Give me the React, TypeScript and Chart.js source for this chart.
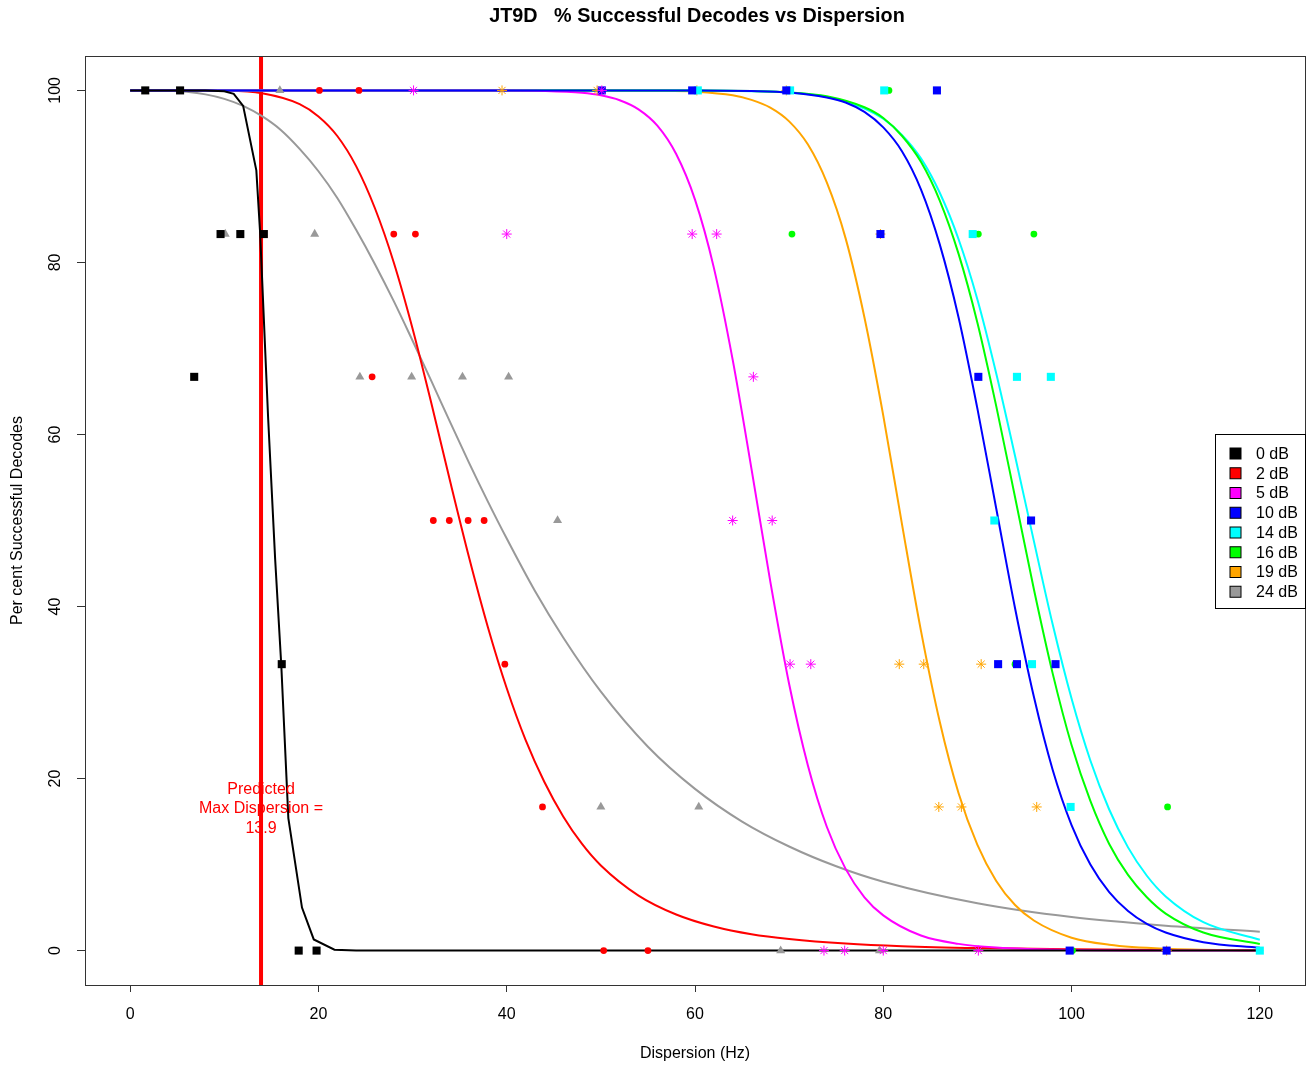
import React, { useEffect, useRef } from 'react';
import { Chart, registerables } from 'chart.js';

Chart.register(...registerables);

// ---------- text ----------
const TITLE = 'JT9D   % Successful Decodes vs Dispersion';
const X_LABEL = 'Dispersion (Hz)';
const Y_LABEL = 'Per cent Successful Decodes';
const PREDICTED_LABEL = ['Predicted', 'Max Dispersion =', '13.9'];

// ---------- axes ----------
const X_TICKS = [0, 20, 40, 60, 80, 100, 120];
const Y_TICKS = [0, 20, 40, 60, 80, 100];
const X_MIN = -4.8;
const X_MAX = 124.8;
const Y_MIN = -4;
const Y_MAX = 104;

// ---------- predicted max dispersion ----------
const PREDICTED = 13.9;
const PREDICTED_LABEL_Y = 16.6;

// ---------- series ----------
const SERIES_LABELS = ['0 dB', '2 dB', '5 dB', '10 dB', '14 dB', '16 dB', '19 dB', '24 dB'];
const SERIES_COLORS = ['#000000', '#FF0000', '#FF00FF', '#0000FF', '#00FFFF', '#00FF00', '#FFA500', '#999999'];

// observed points
const PTS_0DB_X = [1.6, 5.3, 6.8, 9.6, 11.7, 14.2, 16.1, 17.9, 19.8];
const PTS_0DB_Y = [100, 100, 66.7, 83.3, 83.3, 83.3, 33.3, 0, 0];

const PTS_2DB_X = [20.1, 24.3, 25.7, 28.0, 30.3, 32.2, 33.9, 35.9, 37.6, 39.8, 43.8, 50.3, 55.0];
const PTS_2DB_Y = [100, 100, 66.7, 83.3, 83.3, 50, 50, 50, 50, 33.3, 16.7, 0, 0];

const PTS_5DB_X = [30.1, 40.0, 50.1, 59.7, 62.3, 66.2, 64.0, 68.2, 70.1, 72.3, 73.7, 75.9, 80.0, 90.1];
const PTS_5DB_Y = [100, 83.3, 100, 83.3, 83.3, 66.7, 50, 50, 33.3, 33.3, 0, 0, 0, 0];

const PTS_10DB_X = [50.1, 59.7, 69.7, 85.7, 79.7, 90.1, 95.7, 92.2, 94.2, 98.3, 99.8, 110.1];
const PTS_10DB_Y = [100, 100, 100, 100, 83.3, 66.7, 50, 33.3, 33.3, 33.3, 0, 0];

const PTS_14DB_X = [60.3, 70.1, 80.1, 89.5, 94.2, 97.8, 91.8, 95.8, 99.9, 120];
const PTS_14DB_Y = [100, 100, 100, 83.3, 66.7, 66.7, 50, 33.3, 16.7, 0];

const PTS_16DB_X = [80.6, 70.3, 90.1, 96.0, 94.0, 110.2, 100.1, 120];
const PTS_16DB_Y = [100, 83.3, 83.3, 83.3, 33.3, 16.7, 0, 0];

const PTS_19DB_X = [39.5, 49.6, 60.2, 69.7, 79.7, 81.7, 84.3, 90.4, 85.9, 88.3, 96.3, 110.1];
const PTS_19DB_Y = [100, 100, 100, 100, 83.3, 33.3, 33.3, 33.3, 16.7, 16.7, 16.7, 0];

const PTS_24DB_X = [10.1, 15.9, 19.6, 24.4, 29.9, 35.3, 40.2, 45.4, 50.0, 60.4, 69.1, 79.6];
const PTS_24DB_Y = [83.3, 100, 83.3, 66.7, 66.7, 66.7, 66.7, 50, 16.7, 16.7, 0, 0];

// fitted curves
const FIT_0DB_X = [0, 8, 10, 11, 12, 13.4, 13.8, 14.65, 15.4, 16.05, 16.8, 18.25, 19.5, 21.7, 24, 120];
const FIT_0DB_Y = [100, 100, 99.9, 99.6, 98.2, 90.7, 83.5, 62, 45.5, 33.2, 15.4, 5, 1.3, 0.1, 0, 0];

const FIT_2DB_X = [0, 5, 10, 14, 18, 20, 22, 24, 26, 28, 30, 32, 34, 36, 38, 40, 42, 44, 46, 48, 50, 54, 58, 62, 66, 70, 76, 82, 90, 100, 110, 120];
const FIT_2DB_Y = [100, 100, 99.96, 99.66, 98.4, 96.97, 94.7, 91.2, 86.3, 80.0, 72.3, 63.6, 54.5, 45.7, 37.6, 30.5, 24.5, 19.6, 15.6, 12.4, 9.9, 6.4, 4.2, 2.8, 1.9, 1.35, 0.82, 0.51, 0.29, 0.15, 0.08, 0.05];

const FIT_5DB_X = [0, 40, 44, 48, 50, 52, 54, 56, 58, 60, 62, 64, 66, 68, 70, 72, 74, 76, 78, 80, 84, 88, 92, 100, 110, 120];
const FIT_5DB_Y = [100, 99.99, 99.94, 99.72, 99.43, 98.86, 97.8, 95.9, 92.6, 87.3, 79.4, 68.7, 56.0, 42.9, 31.0, 21.5, 14.4, 9.5, 6.2, 4.1, 1.75, 0.78, 0.36, 0.08, 0.02, 0.01];

const FIT_10DB_X = [0, 60, 66, 70, 74, 76, 78, 80, 82, 84, 86, 88, 90, 92, 94, 96, 98, 100, 102, 104, 106, 108, 110, 114, 120];
const FIT_10DB_Y = [100, 99.99, 99.93, 99.76, 99.18, 98.6, 97.5, 95.7, 92.9, 88.5, 82.1, 73.6, 63.0, 51.4, 39.8, 29.5, 21.0, 14.6, 10.0, 6.8, 4.6, 3.1, 2.1, 0.98, 0.32];

const FIT_14DB_X = [0, 60, 66, 70, 74, 78, 80, 82, 84, 86, 88, 90, 92, 94, 96, 98, 100, 102, 104, 106, 108, 110, 114, 120];
const FIT_14DB_Y = [100, 99.99, 99.91, 99.74, 99.24, 97.9, 96.7, 94.8, 92.1, 88.1, 82.7, 75.7, 67.1, 57.5, 47.6, 37.9, 29.3, 22.1, 16.4, 12.0, 8.7, 6.3, 3.3, 1.26];

const FIT_16DB_X = [0, 60, 66, 70, 74, 78, 80, 82, 84, 86, 88, 90, 92, 94, 96, 98, 100, 102, 104, 106, 108, 110, 114, 120];
const FIT_16DB_Y = [100, 99.99, 99.93, 99.78, 99.32, 98.04, 96.8, 94.7, 91.7, 87.2, 81.0, 73.0, 63.3, 52.7, 42.0, 32.2, 23.9, 17.4, 12.4, 8.8, 6.2, 4.3, 2.1, 0.76];

const FIT_19DB_X = [0, 50, 56, 60, 64, 66, 68, 70, 72, 74, 76, 78, 80, 82, 84, 86, 88, 90, 92, 94, 96, 100, 104, 110, 120];
const FIT_19DB_Y = [100, 100, 99.96, 99.85, 99.43, 98.9, 98.0, 96.4, 93.7, 89.3, 82.8, 73.6, 62.2, 49.5, 37.2, 26.6, 18.3, 12.3, 8.1, 5.3, 3.5, 1.5, 0.68, 0.21, 0.03];

const FIT_24DB_X = [0, 2, 4, 6, 8, 10, 12, 14, 16, 18, 20, 22, 24, 26, 28, 30, 32, 34, 36, 38, 40, 43, 46, 50, 55, 60, 65, 70, 75, 80, 90, 100, 110, 120];
const FIT_24DB_Y = [100, 100, 99.96, 99.83, 99.54, 99.02, 98.2, 97.0, 95.4, 93.2, 90.6, 87.5, 83.8, 79.8, 75.5, 70.9, 66.2, 61.4, 56.7, 52.2, 47.9, 41.8, 36.4, 30.1, 23.7, 18.8, 15.0, 12.1, 9.8, 8.0, 5.5, 3.9, 2.9, 2.2];

const FONT = "'Liberation Sans', Arial, sans-serif";

const pairs = (xs: number[], ys: number[]) => xs.map((x, i) => ({ x, y: ys[i] }));

function pointDs(idx: number, xs: number[], ys: number[], style: string, radius: number, stroke: boolean) {
  const c = SERIES_COLORS[idx];
  return {
    label: SERIES_LABELS[idx],
    data: pairs(xs, ys),
    showLine: false,
    pointStyle: style,
    pointRadius: radius,
    pointHoverRadius: radius,
    backgroundColor: c,
    borderColor: c,
    pointBorderWidth: stroke ? 1 : 0,
    borderWidth: stroke ? 1 : 0,
  };
}

function curveDs(idx: number, xs: number[], ys: number[], smooth: boolean) {
  const c = SERIES_COLORS[idx];
  return {
    label: SERIES_LABELS[idx] + ' fit',
    data: pairs(xs, ys),
    showLine: true,
    pointRadius: 0,
    pointHoverRadius: 0,
    borderColor: c,
    backgroundColor: c,
    borderWidth: 2,
    tension: 0,
    cubicInterpolationMode: smooth ? 'monotone' : 'default',
    fill: false,
  };
}

const decorPlugin = {
  id: 'rDecor',
  afterDraw(chart: any) {
    const { ctx, chartArea } = chart;
    const xs = chart.scales.x;
    const ys = chart.scales.y;
    ctx.save();

    // plot box
    ctx.strokeStyle = '#333';
    ctx.lineWidth = 1;
    ctx.strokeRect(Math.round(chartArea.left) + 0.5, Math.round(chartArea.top) + 0.5,
      Math.round(chartArea.right - chartArea.left), Math.round(chartArea.bottom - chartArea.top));

    // title
    ctx.fillStyle = '#000';
    ctx.font = `bold 19.8px ${FONT}`;
    ctx.textAlign = 'center';
    ctx.textBaseline = 'middle';
    ctx.fillText(TITLE, (chartArea.left + chartArea.right) / 2 + 2, 17);

    // y tick labels (rotated like R)
    ctx.font = `16px ${FONT}`;
    Y_TICKS.forEach((v) => {
      const py = ys.getPixelForValue(v);
      ctx.save();
      ctx.translate(56, py);
      ctx.rotate(-Math.PI / 2);
      ctx.fillText(String(v), 0, 0);
      ctx.restore();
    });

    // predicted label
    ctx.fillStyle = '#FF0000';
    const px = xs.getPixelForValue(PREDICTED);
    const pyc = ys.getPixelForValue(PREDICTED_LABEL_Y);
    PREDICTED_LABEL.forEach((t, i) => {
      ctx.fillText(t, px, pyc + 1 + (i - 1) * 19.5);
    });

    // legend
    const rowH = 19.75;
    const boxW = 90;
    const boxH = 174;
    const right = chartArea.right;
    const left = right - boxW;
    const top = (chartArea.top + chartArea.bottom) / 2 - boxH / 2;
    ctx.strokeStyle = '#000';
    ctx.lineWidth = 1;
    ctx.strokeRect(Math.round(left) + 0.5, Math.round(top) + 0.5, boxW, boxH);
    ctx.textAlign = 'left';
    ctx.textBaseline = 'middle';
    SERIES_LABELS.forEach((lab, i) => {
      const cy = top + 20 + i * rowH;
      ctx.fillStyle = SERIES_COLORS[i];
      ctx.fillRect(left + 15, cy - 5.5, 11, 11);
      ctx.strokeStyle = '#000';
      ctx.strokeRect(left + 15, cy - 5.5, 11, 11);
      ctx.fillStyle = '#000';
      ctx.fillText(lab, left + 41, cy + 1);
    });

    ctx.restore();
  },
};

export default function App() {
  const ref = useRef<HTMLCanvasElement>(null);

  useEffect(() => {
    const canvas = ref.current;
    if (!canvas) return;
    Chart.defaults.font.family = FONT;
    Chart.defaults.color = '#000';

    const datasets: any[] = [
      // points (top-most first)
      pointDs(2, PTS_5DB_X, PTS_5DB_Y, 'star', 5, true),
      pointDs(3, PTS_10DB_X, PTS_10DB_Y, 'rect', 5.7, false),
      pointDs(4, PTS_14DB_X, PTS_14DB_Y, 'rect', 5.7, false),
      pointDs(5, PTS_16DB_X, PTS_16DB_Y, 'circle', 3.4, false),
      pointDs(6, PTS_19DB_X, PTS_19DB_Y, 'star', 5, true),
      pointDs(1, PTS_2DB_X, PTS_2DB_Y, 'circle', 3.4, false),
      pointDs(0, PTS_0DB_X, PTS_0DB_Y, 'rect', 5.7, false),
      pointDs(7, PTS_24DB_X, PTS_24DB_Y, 'triangle', 5.2, false),
      // fitted curves
      curveDs(0, FIT_0DB_X, FIT_0DB_Y, false),
      curveDs(3, FIT_10DB_X, FIT_10DB_Y, true),
      curveDs(2, FIT_5DB_X, FIT_5DB_Y, true),
      curveDs(5, FIT_16DB_X, FIT_16DB_Y, true),
      curveDs(4, FIT_14DB_X, FIT_14DB_Y, true),
      curveDs(6, FIT_19DB_X, FIT_19DB_Y, true),
      curveDs(1, FIT_2DB_X, FIT_2DB_Y, true),
      curveDs(7, FIT_24DB_X, FIT_24DB_Y, true),
      // predicted max dispersion line
      {
        label: 'Predicted',
        data: [{ x: PREDICTED, y: Y_MIN }, { x: PREDICTED, y: Y_MAX }],
        showLine: true,
        pointRadius: 0,
        borderColor: '#FF0000',
        borderWidth: 4,
        tension: 0,
      },
    ];

    const chart = new Chart(canvas, {
      type: 'scatter',
      data: { datasets },
      options: {
        responsive: false,
        animation: false,
        devicePixelRatio: 1,
        layout: { padding: { left: 0, right: 4, top: 56, bottom: 0 } },
        plugins: {
          legend: { display: false },
          tooltip: { enabled: false },
          title: { display: false },
        },
        events: [],
        scales: {
          x: {
            type: 'linear',
            min: X_MIN,
            max: X_MAX,
            afterBuildTicks: (s: any) => { s.ticks = X_TICKS.map((v) => ({ value: v })); },
            afterFit: (s: any) => { s.height = 81; },
            ticks: {
              padding: 13.4,
              font: { size: 16, family: FONT },
              color: '#000',
              maxRotation: 0,
              minRotation: 0,
              autoSkip: false,
              includeBounds: false,
            },
            grid: {
              display: true,
              drawOnChartArea: false,
              drawTicks: true,
              tickLength: 7,
              tickColor: '#333',
              tickWidth: 1,
            },
            border: { display: false },
            title: {
              display: true,
              text: X_LABEL,
              font: { size: 16, family: FONT },
              color: '#000',
              padding: { top: 0, bottom: 2.4 },
            },
          },
          y: {
            type: 'linear',
            min: Y_MIN,
            max: Y_MAX,
            afterBuildTicks: (s: any) => { s.ticks = Y_TICKS.map((v) => ({ value: v })); },
            afterFit: (s: any) => { s.width = 85; },
            ticks: { display: false },
            grid: {
              display: true,
              drawOnChartArea: false,
              drawTicks: true,
              tickLength: 8,
              tickColor: '#333',
              tickWidth: 1,
            },
            border: { display: false },
            title: {
              display: true,
              text: Y_LABEL,
              font: { size: 16, family: FONT },
              color: '#000',
              padding: { top: 8.4, bottom: 0 },
            },
          },
        },
      } as any,
      plugins: [decorPlugin],
    });

    return () => chart.destroy();
  }, []);

  return (
    <div style={{ position: 'absolute', left: 0, top: 0, width: 1311, height: 1066, background: '#fff' }}>
      <canvas ref={ref} width={1311} height={1066} style={{ display: 'block' }} />
    </div>
  );
}
